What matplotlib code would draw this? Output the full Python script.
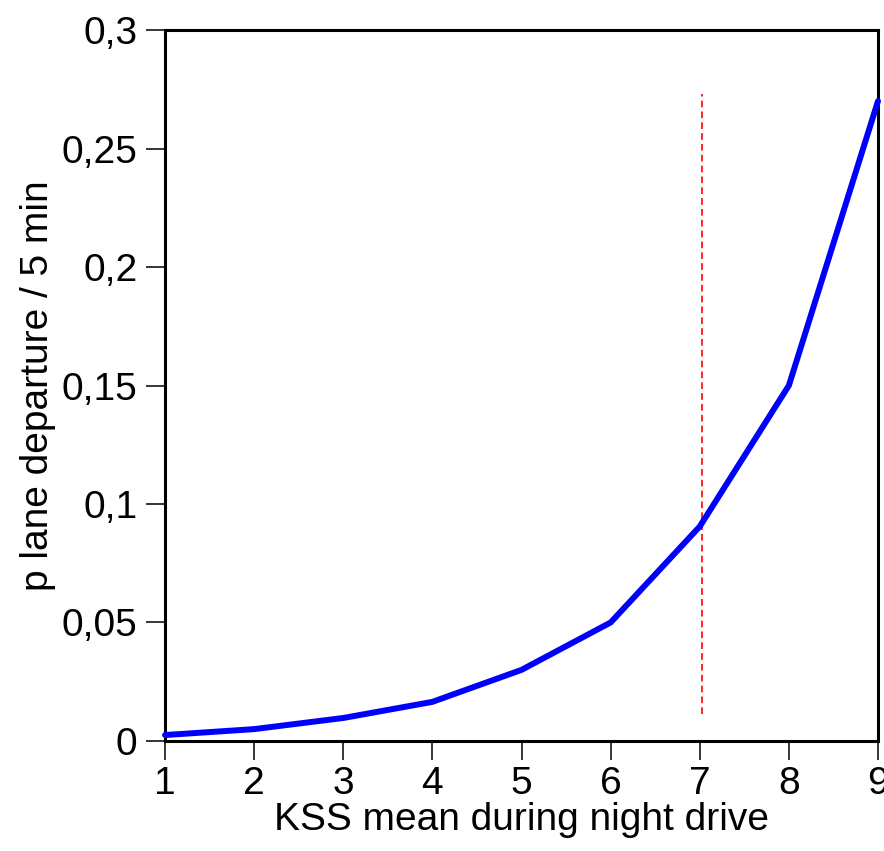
import matplotlib
matplotlib.use("Agg")
import matplotlib.pyplot as plt
from matplotlib.ticker import FuncFormatter, MultipleLocator

plt.rcParams['font.family'] = ['Liberation Sans', 'DejaVu Sans']

# data
kss = [1, 2, 3, 4, 5, 6, 7, 8, 9]
p_lane = [0.0025, 0.005, 0.0097, 0.0165, 0.030, 0.050, 0.0905, 0.150, 0.270]

thresh_x = 7.02
thresh_y = [0.0114, 0.273]

fig = plt.figure(figsize=(8.84, 8.51), dpi=100)
ax = fig.add_axes([0.1867, 0.1293, 0.8065, 0.8354])

ax.plot(kss, p_lane, color='#0000ff', linewidth=4.3, solid_capstyle='round', clip_on=False, zorder=3)
ax.plot([thresh_x, thresh_x], thresh_y, color='#ff0000', linestyle=(0, (4, 2.5)), linewidth=1.2)

ax.set_xlim(1, 9)
ax.set_ylim(0, 0.3)
ax.xaxis.set_major_locator(MultipleLocator(1))
ax.yaxis.set_major_locator(MultipleLocator(0.05))
ax.yaxis.set_major_formatter(FuncFormatter(lambda v, pos: '{:g}'.format(round(v, 3)).replace('.', ',')))

for s in ax.spines.values():
    s.set_linewidth(2.2)
ax.tick_params(axis='both', direction='out', length=14, width=1.1, labelsize=28, pad=6)
ax.tick_params(axis='x', pad=4)

ax.set_xlabel('KSS mean during night drive', fontsize=28, labelpad=0)
ax.set_ylabel('p lane departure / 5 min', fontsize=28, labelpad=4)

fig.savefig('out.png', dpi=100)
